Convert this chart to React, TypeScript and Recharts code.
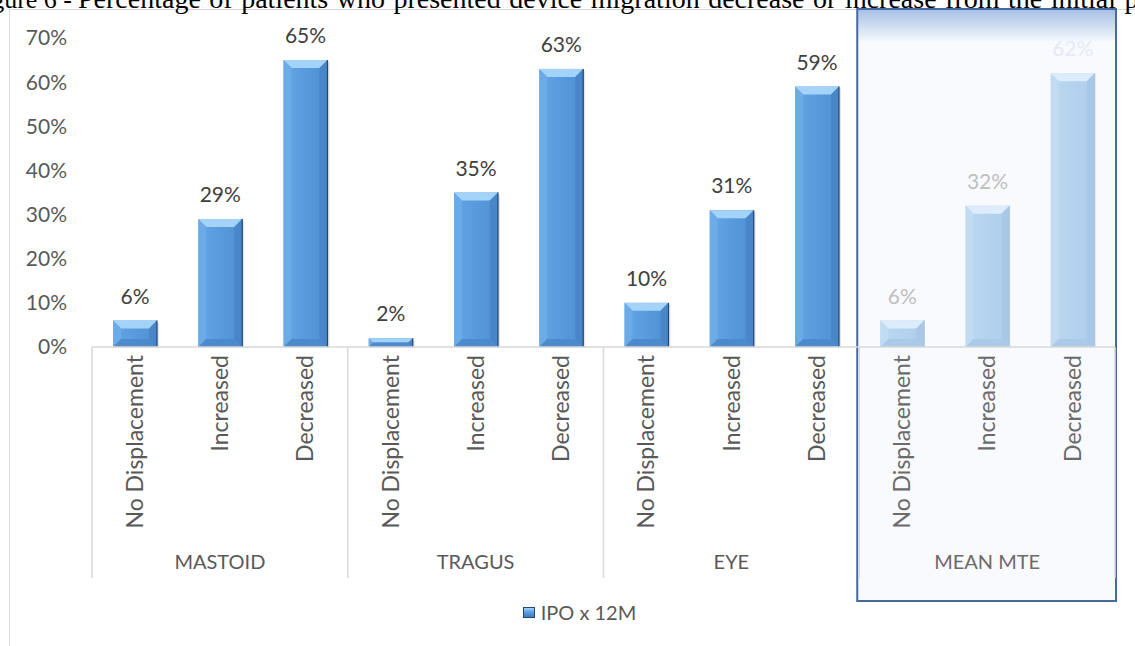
import React from 'react';
import { BarChart, Bar, XAxis, YAxis, LabelList, Legend, ReferenceArea } from 'recharts';

const groups = ['MASTOID', 'TRAGUS', 'EYE', 'MEAN MTE'];
const subCategories = ['No Displacement', 'Increased', 'Decreased'];
const mastoid = [6, 29, 65];
const tragus = [2, 35, 63];
const eye = [10, 31, 59];
const meanMte = [6, 32, 62];
const yTicks = [0, 10, 20, 30, 40, 50, 60, 70];
const seriesName = 'IPO x 12M';
const fadedGroup = 'MEAN MTE';
const titleLead = 'Figure 6 -';
const titleRest = 'Percentage of patients who presented device migration decrease or increase from the initial point';

const byGroup = [mastoid, tragus, eye, meanMte];

const data = groups.flatMap((g, gi) =>
  subCategories.map((s, si) => ({
    key: `${g}|${s}`,
    group: g,
    sub: s,
    value: byGroup[gi][si],
    faded: g === fadedGroup,
  }))
);

const FONT = 'Lato, "Open Sans", sans-serif';
const SERIF = '"Liberation Serif", "Times New Roman", serif';
const GRID = '#d9d9d9';

const normalColors = { bodyL: '#63a5e6', bodyR: '#4f8fd3', top: '#a3d3f8', left: '#6eaee9', right: '#4683c4', bottom: '#4c8acb', edge: '#24476f' };
const fadedColors = { bodyL: '#bcd8f1', bodyR: '#aecdeb', top: '#dcecfa', left: '#c3dcf2', right: '#a7c7e6', bottom: '#abcae8', edge: '#b3c8dd' };

function BevelBar(props: any) {
  const { x, y, width: w, height: h, payload, index } = props;
  if (!h || h <= 0) return null;
  const c = payload?.faded ? fadedColors : normalColors;
  const b = Math.min(8, h / 2, w / 2);
  const gid = `barBody${index}`;
  return (
    <g>
      <defs>
        <linearGradient id={gid} x1="0" y1="0" x2="1" y2="0">
          <stop offset="0" stopColor={c.bodyL} />
          <stop offset="1" stopColor={c.bodyR} />
        </linearGradient>
      </defs>
      {!payload?.faded && <rect x={x + 2} y={y + 2} width={w} height={h - 1} fill="#000" opacity={0.1} />}
      <rect x={x} y={y} width={w} height={h} fill={`url(#${gid})`} />
      <polygon points={`${x},${y} ${x + w},${y} ${x + w - b},${y + b} ${x + b},${y + b}`} fill={c.top} />
      <polygon points={`${x},${y} ${x + b},${y + b} ${x + b},${y + h - b} ${x},${y + h}`} fill={c.left} opacity={0.8} />
      <polygon points={`${x + w},${y} ${x + w},${y + h} ${x + w - b},${y + h - b} ${x + w - b},${y + b}`} fill={c.right} opacity={0.8} />
      <polygon points={`${x},${y + h} ${x + b},${y + h - b} ${x + w - b},${y + h - b} ${x + w},${y + h}`} fill={c.bottom} />
      <line x1={x + w} y1={y} x2={x + w} y2={y + h} stroke={c.edge} strokeWidth={1.2} />
    </g>
  );
}

function CategoryTick(props: any) {
  const { x, y, payload, index, visibleTicksCount } = props;
  const row = data[index];
  const band = (payload?.offset ?? 42.6) * 2;
  const faded = row?.faded;
  const last = index === (visibleTicksCount ?? data.length) - 1;
  const textColor = faded ? '#6b6b6b' : '#595959';
  return (
    <g>
      <text
        x={x}
        y={y + 8}
        transform={`rotate(-90, ${x}, ${y + 8})`}
        textAnchor="end"
        dy="0.36em"
        fontFamily={FONT}
        fontSize={23}
        fill={textColor}
      >
        {row?.sub}
      </text>
      {index % 3 === 0 && (
        <line x1={x - band / 2} y1={y} x2={x - band / 2} y2={y + 231} stroke={GRID} strokeWidth={1.5} />
      )}
      {last && <line x1={x + band / 2} y1={y} x2={x + band / 2} y2={y + 231} stroke={GRID} strokeWidth={1.5} />}
      {index % 3 === 1 && (
        <text x={x} y={y + 222} textAnchor="middle" fontFamily={FONT} fontSize={20} fill={textColor}>
          {row?.group}
        </text>
      )}
    </g>
  );
}

function MeanBox(props: any) {
  const { x, y, width, height } = props;
  const top = y - 29;
  const bottom = y + height + 254;
  const left = x - 2;
  const w = width + 3;
  return (
    <g>
      <defs>
        <linearGradient id="meanTop" x1="0" y1="0" x2="0" y2="1">
          <stop offset="0" stopColor="#a6bfe5" />
          <stop offset="1" stopColor="#f4f7fc" />
        </linearGradient>
      </defs>
      <rect x={left} y={top} width={w} height={bottom - top} fill="#f4f7fc" fillOpacity={0.6} />
      <rect x={left} y={top} width={w} height={32} fill="url(#meanTop)" />
      <rect x={left} y={top} width={w} height={bottom - top} fill="none" stroke="#46699f" strokeWidth={2} />
    </g>
  );
}

function renderLegend() {
  return (
    <div style={{ height: 46, display: 'flex', justifyContent: 'center', alignItems: 'flex-end', fontFamily: FONT, fontSize: 20, color: '#595959' }}>
      <span style={{ display: 'inline-flex', alignItems: 'center', gap: 6, transform: 'translateX(22px)' }}>
        <span style={{ width: 12, height: 11, background: 'linear-gradient(180deg, #a3d3f8 0%, #5b9de0 45%, #3f7fc4 100%)', border: '1px solid #24476f', boxSizing: 'border-box' }} />
        <span>{seriesName}</span>
      </span>
    </div>
  );
}

export default function App() {
  return (
    <div style={{ position: 'absolute', left: 0, top: 0, width: 1135, height: 646, overflow: 'hidden', background: '#fff' }}>
      <div style={{ position: 'absolute', left: 9, top: 9, width: 1200, height: 700, borderLeft: `1px solid ${GRID}`, borderTop: `1px solid ${GRID}` }} />
      <svg width={1135} height={20} style={{ position: 'absolute', left: 0, top: 0 }}>
        <text x={72} y={8} textAnchor="end" fontFamily={SERIF} fontSize={26} fill="#000">{titleLead}</text>
        <text x={78} y={8} fontFamily={SERIF} fontSize={28} wordSpacing={1.5} fill="#000">{titleRest}</text>
      </svg>
      <div style={{ position: 'absolute', left: 0, top: 0 }}>
        <BarChart width={1135} height={646} data={data} margin={{ top: 38, right: 20, left: 0, bottom: 22 }}>
          <ReferenceArea
            x1={`${fadedGroup}|${subCategories[0]}`}
            x2={`${fadedGroup}|${subCategories[2]}`}
            ifOverflow="visible"
            shape={<MeanBox />}
          />
          <XAxis
            dataKey="key"
            interval={0}
            height={231}
            tickLine={false}
            tickSize={0}
            tickMargin={0}
            axisLine={{ stroke: GRID, strokeWidth: 1.5 }}
            tick={<CategoryTick />}
          />
          <YAxis
            width={92}
            domain={[0, 70]}
            ticks={yTicks}
            axisLine={false}
            tickLine={false}
            tickSize={0}
            tickMargin={25}
            tickFormatter={(v: number) => `${v}%`}
            tick={{ fill: '#595959', fontFamily: FONT, fontSize: 21 }}
          />
          <Legend verticalAlign="bottom" height={46} content={renderLegend} />
          <Bar dataKey="value" name={seriesName} barSize={44} shape={<BevelBar />} isAnimationActive={false}>
            <LabelList
              dataKey="value"
              position="top"
              content={(p: any) => {
                const row = data[p.index];
                const isFaded = row?.faded;
                const color = isFaded ? (row.value > 50 ? '#e3ebf6' : '#bfbfbf') : '#404040';
                return (
                  <text x={p.x + p.width / 2} y={p.y - 17} textAnchor="middle" fontFamily={FONT} fontSize={21} fill={color}>
                    {`${p.value}%`}
                  </text>
                );
              }}
            />
          </Bar>
        </BarChart>
      </div>
    </div>
  );
}
